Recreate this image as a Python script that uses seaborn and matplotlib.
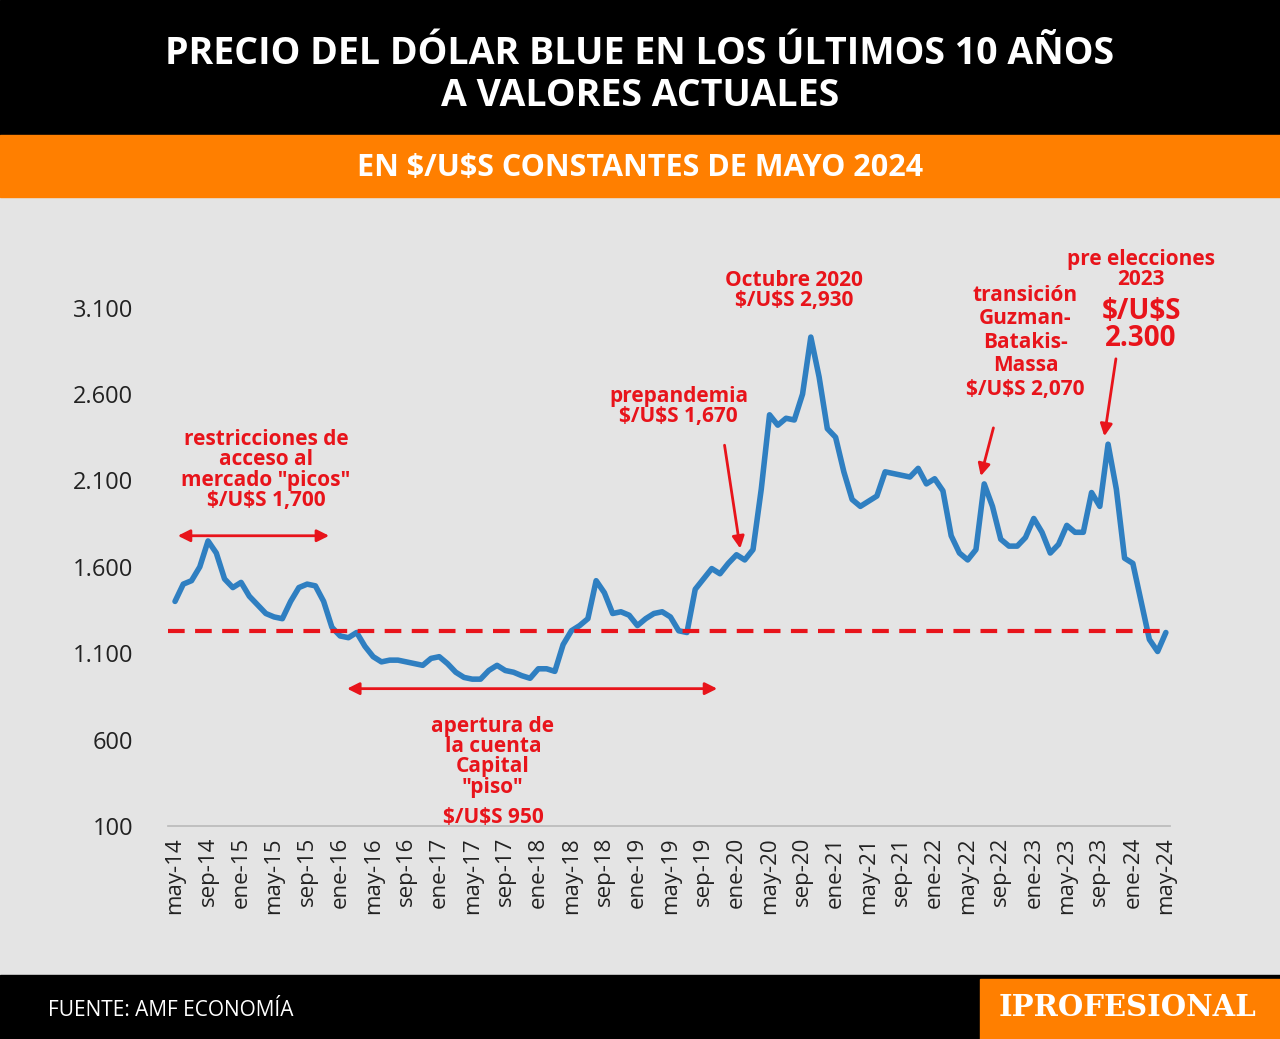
import matplotlib
matplotlib.use("Agg")
import matplotlib.pyplot as plt
import seaborn as sns
import pandas as pd
import numpy as np

values = [1400,1500,1520,1600,1750,1680,1530,1480,1510,1430,1380,1330,1310,1300,1400,1480,1500,1490,1400,1250,
          1200,1190,1220,1140,1080,1050,1060,1060,1050,1040,1030,1070,1080,1040,990,960,950,950,1000,1030,
          1000,990,970,955,1010,1010,995,1150,1230,1260,1300,1520,1450,1330,1340,1320,1260,1300,1330,1340,
          1310,1230,1220,1470,1530,1590,1560,1620,1670,1640,1700,2050,2480,2420,2460,2450,2600,2930,2700,2400,
          2350,2150,1990,1950,1980,2010,2150,2140,2130,2120,2170,2080,2110,2040,1780,1680,1640,1700,2080,1950,
          1760,1720,1720,1770,1880,1800,1680,1730,1840,1800,1800,2030,1950,2310,2050,1650,1620,1400,1180,1110,1220]
months = ["may","jun","jul","ago","sep","oct","nov","dic","ene","feb","mar","abr"]
labels = [f"{months[i%12]}-{14+(i+4)//12}" for i in range(len(values))]
tick_idx = list(range(0, 121, 4))
yticks = [100, 600, 1100, 1600, 2100, 2600, 3100]
ref_level = 1230

sns.set_theme(style="white")
plt.rcParams['font.family'] = ['Open Sans', 'DejaVu Sans']
plt.rcParams['text.parse_math'] = False
RED = "#e8141b"
BLUE = "#2f7fc1"
GRAY = "#e4e4e4"
ORANGE = "#ff7f00"

fig = plt.figure(figsize=(12.8, 10.39), dpi=100)
fig.patch.set_facecolor(GRAY)
fig.add_artist(plt.Rectangle((0, 1-135/1039), 1, 135/1039, color="black", transform=fig.transFigure))
fig.add_artist(plt.Rectangle((0, 1-197/1039), 1, 62/1039, color=ORANGE, transform=fig.transFigure))
fig.add_artist(plt.Rectangle((0, 0), 1, 64/1039, color="black", transform=fig.transFigure))
fig.add_artist(plt.Rectangle((980/1280, 0), 300/1280, 60/1039, color=ORANGE, transform=fig.transFigure))
fig.text(0.5, 1-75/1039, "PRECIO DEL DÓLAR BLUE EN LOS ÚLTIMOS 10 AÑOS\nA VALORES ACTUALES", color="white",
         fontsize=27, fontweight="bold", ha="center", va="center", linespacing=1.15)
fig.text(0.5, 1-168/1039, "EN $/U$S CONSTANTES DE MAYO 2024", color="white", fontsize=22, fontweight="bold",
         ha="center", va="center")
fig.text(48/1280, 29/1039, "FUENTE: AMF ECONOMÍA", color="white", fontsize=15, ha="left", va="center")
fig.text(1128/1280, 32/1039, "IPROFESIONAL", color="white", fontsize=21, fontweight="bold", ha="center",
         va="center", family="DejaVu Serif")

ax = fig.add_axes([168/1280, 0.205, 1002/1280, 0.582])
ax.set_facecolor(GRAY)
df = pd.DataFrame({"x": np.arange(len(values)), "v": values})
sns.lineplot(data=df, x="x", y="v", ax=ax, color=BLUE, linewidth=4)
ax.axhline(ref_level, color=RED, linestyle=(0, (4, 2.5)), linewidth=3)
ax.set_xlim(-0.85, 120.5)
ax.set_ylim(100, 3600)
ax.set_yticks(yticks)
ax.set_yticklabels([f"{t:,}".replace(",", ".") for t in yticks], fontsize=17)
ax.set_xticks(tick_idx)
ax.set_xticklabels([labels[i] for i in tick_idx], rotation=90, fontsize=16)
ax.tick_params(axis="y", length=0, pad=25, colors="#222222")
ax.tick_params(axis="x", length=0, pad=8, colors="#222222")
for s in ["top", "right", "left"]:
    ax.spines[s].set_visible(False)
ax.spines["bottom"].set_color("#bbbbbb")
ax.set_xlabel(""); ax.set_ylabel("")

kw = dict(color=RED, fontsize=15, fontweight="bold", ha="center", va="center", linespacing=0.95)
ax.text(11, 2160, 'restricciones de\nacceso al\nmercado "picos"\n$/U$S 1,700', **kw)
ax.annotate("", xy=(19, 1780), xytext=(0, 1780), arrowprops=dict(arrowstyle="<|-|>", color=RED, lw=2, mutation_scale=18))
ax.annotate("", xy=(66, 895), xytext=(20.5, 895), arrowprops=dict(arrowstyle="<|-|>", color=RED, lw=2, mutation_scale=18))
ax.text(38.5, 500, 'apertura de\nla cuenta\nCapital\n"piso"', **kw)
ax.text(38.5, 150, '$/U$S 950', **kw)
ax.text(61, 2530, 'prepandemia\n$/U$S 1,670', **kw)
ax.annotate("", xy=(68.5, 1690), xytext=(66.5, 2320), arrowprops=dict(arrowstyle="-|>", color=RED, lw=2, mutation_scale=18))
ax.text(75, 3200, 'Octubre 2020\n$/U$S 2,930', **kw)
ax.text(103, 2900, 'transición\nGuzman-\nBatakis-\nMassa\n$/U$S 2,070', color=RED, fontsize=15, fontweight="bold",
        ha="center", va="center", linespacing=1.15)
ax.annotate("", xy=(97.5, 2110), xytext=(99.2, 2420), arrowprops=dict(arrowstyle="-|>", color=RED, lw=2, mutation_scale=18))
ax.text(117, 3320, 'pre elecciones\n2023', **kw)
ax.text(117, 3000, '$/U$S\n2.300', color=RED, fontsize=20, fontweight="bold", ha="center", va="center", linespacing=0.95)
ax.annotate("", xy=(112.5, 2340), xytext=(114, 2820), arrowprops=dict(arrowstyle="-|>", color=RED, lw=2, mutation_scale=18))

fig.savefig("out.png", dpi=100, facecolor=fig.get_facecolor())
